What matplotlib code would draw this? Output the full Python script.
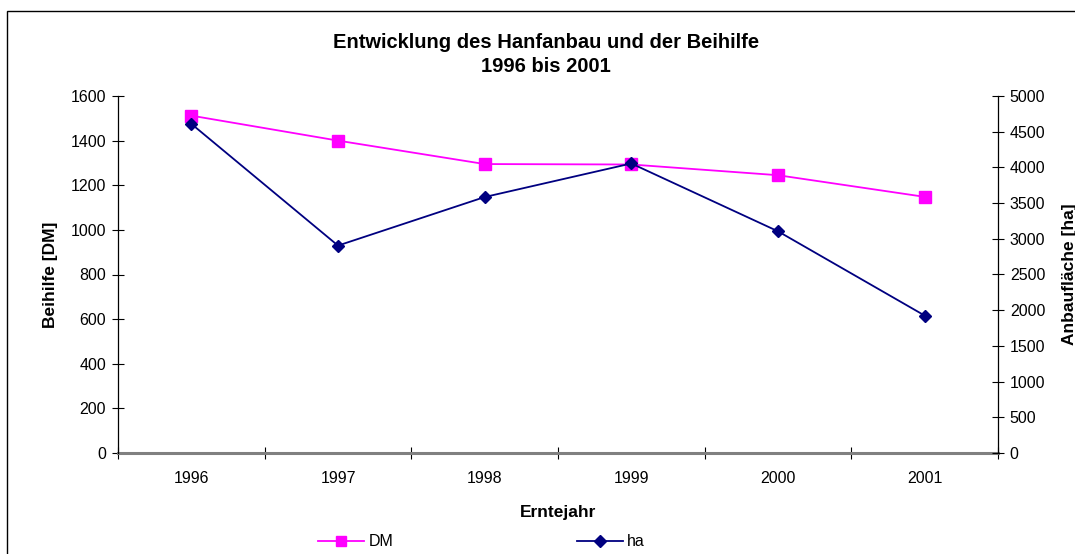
import matplotlib
matplotlib.use("Agg")
import matplotlib.pyplot as plt
from matplotlib.patches import Rectangle
import numpy as np

plt.rcParams['font.family'] = ['Liberation Sans', 'DejaVu Sans']

years = ['1996', '1997', '1998', '1999', '2000', '2001']
dm_values = [1512, 1400, 1295, 1293, 1245, 1148]
ha_values = [4610, 2905, 3585, 4055, 3105, 1925]
left_ticks = [0, 200, 400, 600, 800, 1000, 1200, 1400, 1600]
right_ticks = [0, 500, 1000, 1500, 2000, 2500, 3000, 3500, 4000, 4500, 5000]

W, H = 1075, 554
fig = plt.figure(figsize=(W / 100, H / 100), dpi=100)
fig.patch.set_facecolor('white')

# outer chart frame
fig.patches.append(Rectangle((7 / W, -0.1), 1.2, 1.1 - 11 / H,
                             transform=fig.transFigure, fill=False,
                             edgecolor='black', linewidth=1.0, clip_on=False))

ax = fig.add_axes([118 / W, 1 - 453 / H, (998 - 118) / W, (453 - 96) / H])
ax2 = ax.twinx()

x = np.arange(len(years))
l1, = ax.plot(x, dm_values, color='#FF00FF', marker='s', markersize=8, linewidth=1.3,
              label='DM', zorder=3)
l2, = ax2.plot(x, ha_values, color='#000080', marker='D', markersize=6.5, linewidth=1.3,
               label='ha', zorder=3)

ax.set_xlim(-0.5, len(years) - 0.5)
ax.set_ylim(0, 1600)
ax2.set_ylim(0, 5000)
ax.set_yticks(left_ticks)
ax2.set_yticks(right_ticks)

ax.set_xticks(x)
ax.set_xticklabels(years)
ax.set_xticks(np.arange(-0.5, len(years), 1.0), minor=True)
ax.tick_params(axis='x', which='major', length=0, pad=13, labelsize=11.5)
ax.tick_params(axis='x', which='minor', direction='inout', length=9, width=0.8, color='black')
ax.tick_params(axis='y', direction='inout', length=9, width=0.8, labelsize=11.5, pad=4)
ax2.tick_params(axis='y', direction='inout', length=9, width=0.8, labelsize=11.5, pad=4)

for a in (ax, ax2):
    a.spines['top'].set_visible(False)
    a.spines['bottom'].set_visible(False)
    a.spines['left'].set_linewidth(0.9)
    a.spines['right'].set_linewidth(0.9)
    a.set_facecolor('none')
ax2.spines['left'].set_visible(False)
ax.spines['right'].set_visible(False)
ax.axhline(0, color='#808080', linewidth=2.2, zorder=2, clip_on=False)

ax.set_ylabel('Beihilfe [DM]', fontsize=12.5, fontweight='bold', labelpad=9)
ax2.set_ylabel('Anbaufläche [ha]', fontsize=12.5, fontweight='bold', labelpad=12)
ax.set_xlabel('Erntejahr', fontsize=12.5, fontweight='bold', labelpad=14)

fig.text(546 / W, 1 - 42 / H, 'Entwicklung des Hanfanbau und der Beihilfe',
         ha='center', va='center', fontsize=14.5, fontweight='bold')
fig.text(546 / W, 1 - 67 / H, '1996 bis 2001',
         ha='center', va='center', fontsize=14.5, fontweight='bold')

for handle, lab, xpos in ((l1, 'DM', 318), (l2, 'ha', 577)):
    fig.legend([handle], [lab], loc='center left',
               bbox_to_anchor=(xpos / W, 1 - 542 / H), frameon=False,
               fontsize=11.5, borderpad=0, borderaxespad=0, handlelength=2.85,
               handletextpad=0.3, markerscale=0.9)

fig.savefig('out.png', dpi=100, facecolor='white')
